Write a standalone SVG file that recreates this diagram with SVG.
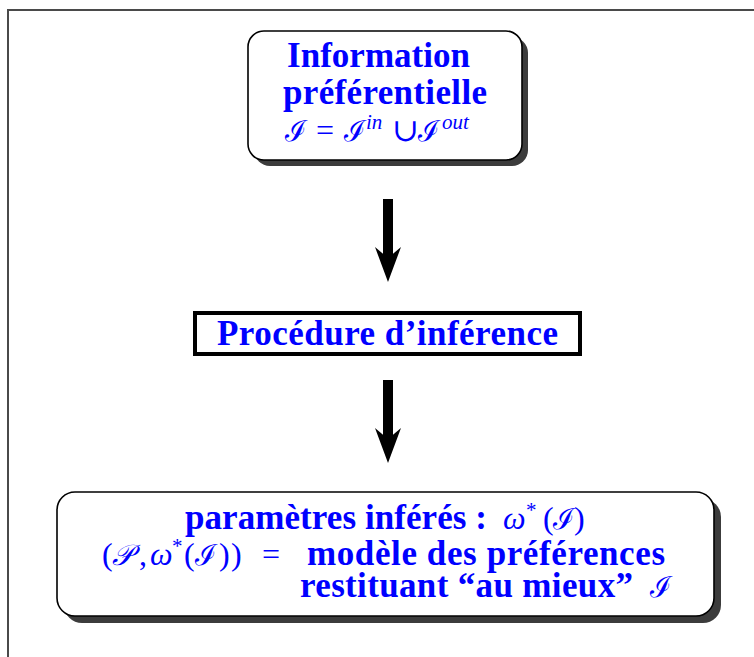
<svg xmlns="http://www.w3.org/2000/svg" width="754" height="657" viewBox="0 0 754 657">
<style>
.t{font-family:"Liberation Serif","DejaVu Serif",serif;font-weight:bold;font-size:35px;fill:#0000ff}
.m{font-family:"Liberation Serif","DejaVu Serif",serif;font-style:italic;font-size:32px;fill:#0000ff}
.r{font-family:"Liberation Serif","DejaVu Serif",serif;font-size:32px;fill:#0000ff}
.c{font-family:"DejaVu Serif","Noto Sans",serif;font-style:italic;font-size:29px;fill:#0000ff}
.sup{font-size:21px}
.box{fill:#ffffff;stroke:#000000;stroke-width:1.6}
.shadow{fill:#3c3c3c}
.arrow{stroke:#000000;stroke-width:10;fill:none;marker-end:url(#head)}
</style>
<defs>
<marker id="head" markerUnits="userSpaceOnUse" viewBox="-12 -14 37 28" refX="0" refY="0" markerWidth="37" markerHeight="28" orient="auto">
<path d="M-11,-13 L24,0 L-11,13 L0,0 Z" fill="#000000"/>
</marker>
</defs>
<rect x="0" y="0" width="754" height="657" fill="#ffffff"/>
<path d="M8,660 V10 H760" fill="none" stroke="#4a4a4a" stroke-width="2"/>

<g id="node-information">
<rect class="shadow" x="254" y="37" width="274" height="129" rx="16"/>
<rect class="box" x="248" y="31" width="274" height="129" rx="16"/>
<text class="t" x="287" y="67" textLength="183" lengthAdjust="spacing">Information</text>
<text class="t" x="283" y="104" textLength="204" lengthAdjust="spacing">préférentielle</text>
<text class="c" x="285" y="141">ℐ</text>
<text class="r" x="316" y="141">=</text>
<text class="c" x="344" y="141">ℐ</text>
<text class="m sup" x="366" y="129">in</text>
<text class="r" x="392" y="141">∪</text>
<text class="c" x="418" y="141">ℐ</text>
<text class="m sup" x="442" y="129">out</text>
</g>

<g id="node-procedure">
<rect x="195" y="313" width="385" height="41" fill="#ffffff" stroke="#000000" stroke-width="4"/>
<text class="t" x="217" y="345" textLength="341" lengthAdjust="spacing">Procédure d’inférence</text>
</g>

<g id="node-parametres">
<rect class="shadow" x="64" y="499" width="657" height="124" rx="18"/>
<rect class="box" x="57" y="492" width="657" height="124" rx="18"/>
<text class="t" x="185" y="529" textLength="302" lengthAdjust="spacing">paramètres inférés :</text>
<text class="m" x="503" y="529">ω</text>
<text class="r sup" x="526" y="517">*</text>
<text class="r" x="543" y="529">(</text>
<text class="c" x="553" y="529">ℐ</text>
<text class="r" x="574" y="529">)</text>

<text class="r" x="102" y="565">(</text>
<text class="c" x="112" y="565">𝒫</text>
<text class="r" x="139" y="565">,</text>
<text class="m" x="150" y="565">ω</text>
<text class="r sup" x="172" y="553">*</text>
<text class="r" x="184" y="565">(</text>
<text class="c" x="195" y="565">ℐ</text>
<text class="r" x="219" y="565">)</text>
<text class="r" x="231" y="565">)</text>
<text class="r" x="262" y="565">=</text>
<text class="t" x="307" y="565" textLength="358" lengthAdjust="spacing">modèle des préférences</text>

<text class="t" x="300" y="597" textLength="333" lengthAdjust="spacing">restituant “au mieux”</text>
<text class="c" x="650" y="597">ℐ</text>
</g>

<g id="connectors">
<line class="arrow" x1="388" y1="199" x2="388" y2="258"/>
<line class="arrow" x1="388" y1="380" x2="388" y2="439"/>
</g>
</svg>
